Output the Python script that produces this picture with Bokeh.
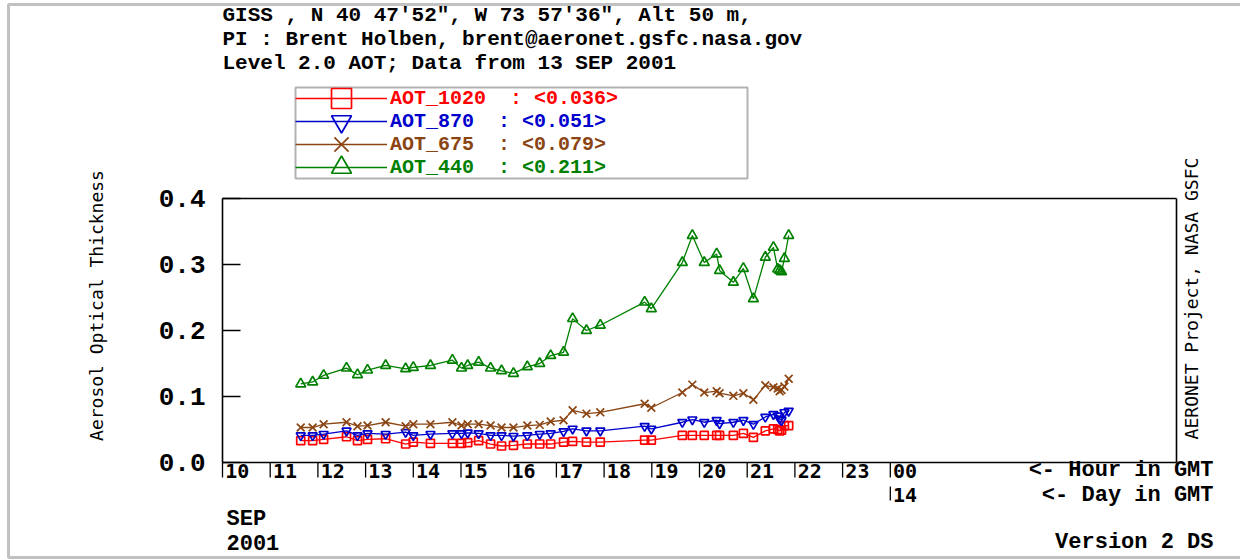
from math import pi

from bokeh.embed import file_html
from bokeh.models import (BoxAnnotation, ColumnDataSource, FixedTicker, Label,
                          Legend, LegendItem, LinearAxis, Range1d)
from bokeh.plotting import figure
from bokeh.resources import INLINE

# ---- data: GISS AERONET site, Level 2.0 AOT, 13 SEP 2001 (hours in GMT) ----
HOURS = [11.64, 11.89, 12.12, 12.60, 12.83, 13.04, 13.42, 13.84, 14.00, 14.36,
         14.82, 15.01, 15.14, 15.37, 15.62, 15.85, 16.10, 16.39, 16.65, 16.88,
         17.15, 17.34, 17.63, 17.92, 18.85, 18.99, 19.64, 19.85, 20.10, 20.36,
         20.42, 20.71, 20.92, 21.13, 21.38, 21.55, 21.64, 21.68, 21.72, 21.78,
         21.87]

AOT_1020 = [0.033, 0.033, 0.035, 0.039, 0.033, 0.035, 0.036, 0.028, 0.031, 0.029,
            0.029, 0.029, 0.030, 0.033, 0.028, 0.025, 0.026, 0.028, 0.028, 0.028,
            0.031, 0.032, 0.031, 0.031, 0.034, 0.034, 0.041, 0.041, 0.041, 0.041,
            0.041, 0.041, 0.044, 0.038, 0.048, 0.051, 0.050, 0.048, 0.049, 0.056,
            0.056]

AOT_870 = [0.041, 0.041, 0.043, 0.048, 0.041, 0.044, 0.043, 0.046, 0.041, 0.043,
           0.044, 0.044, 0.045, 0.044, 0.041, 0.041, 0.040, 0.041, 0.043, 0.044,
           0.047, 0.051, 0.048, 0.048, 0.055, 0.051, 0.061, 0.065, 0.061, 0.064,
           0.059, 0.061, 0.064, 0.058, 0.069, 0.073, 0.071, 0.066, 0.064, 0.076,
           0.078]

AOT_675 = [0.053, 0.053, 0.058, 0.061, 0.055, 0.056, 0.061, 0.055, 0.058, 0.058,
           0.061, 0.056, 0.058, 0.058, 0.056, 0.053, 0.053, 0.056, 0.057, 0.062,
           0.064, 0.079, 0.074, 0.076, 0.089, 0.083, 0.106, 0.118, 0.106, 0.108,
           0.105, 0.101, 0.105, 0.095, 0.117, 0.114, 0.112, 0.108, 0.110, 0.115,
           0.127]

AOT_440 = [0.119, 0.122, 0.132, 0.143, 0.133, 0.140, 0.147, 0.142, 0.144, 0.147,
           0.155, 0.143, 0.147, 0.152, 0.143, 0.139, 0.135, 0.145, 0.150, 0.162,
           0.167, 0.218, 0.200, 0.208, 0.243, 0.233, 0.303, 0.344, 0.303, 0.316,
           0.291, 0.273, 0.294, 0.248, 0.311, 0.326, 0.293, 0.291, 0.289, 0.309,
           0.344]

SERIES_NAMES = ["AOT_1020", "AOT_870", "AOT_675", "AOT_440"]
DAILY_MEANS = [0.036, 0.051, 0.079, 0.211]

HOUR_TICKS = [10, 11, 12, 13, 14, 15, 16, 17, 18, 19, 20, 21, 22, 23, 24]
HOUR_LABELS = ["10", "11", "12", "13", "14", "15", "16", "17", "18", "19",
               "20", "21", "22", "23", "00"]
DAY_TICKS = [24]
DAY_LABELS = ["14"]
Y_TICKS = [0.0, 0.1, 0.2, 0.3, 0.4]
Y_TICK_LABELS = ["0.0", "0.1", "0.2", "0.3", "0.4"]

TITLE_LINES = ['GISS , N 40 47\'52", W 73 57\'36", Alt 50 m,',
               "PI : Brent Holben, brent@aeronet.gsfc.nasa.gov",
               "Level 2.0 AOT; Data from 13 SEP 2001"]

# ---- page geometry (pixels) ----
W, H = 1240, 559
F_LEFT, F_RIGHT, F_TOP, F_BOTTOM = 222, 1176, 198, 462
X_MIN, X_MAX = 10, 30
Y_MIN, Y_MAX = 0.0, 0.4

WIDE = "Liberation Mono"
NARROW = "DejaVu Sans Mono"


def hx(px):
    """page x pixel -> hour on the time axis"""
    return X_MIN + (px - F_LEFT) * (X_MAX - X_MIN) / (F_RIGHT - F_LEFT)


def vy(py):
    """page y pixel -> AOT value on the vertical axis"""
    return Y_MIN + (F_BOTTOM - py) * (Y_MAX - Y_MIN) / (F_BOTTOM - F_TOP)


# the plotting frame covers the whole page; the AOT box is drawn by four axes
p = figure(width=W, height=H, output_backend="svg", toolbar_location=None,
           x_range=Range1d(hx(0), hx(W)), y_range=Range1d(vy(H), vy(0)),
           min_border=0, title=None, x_axis_type=None, y_axis_type=None)
p.outline_line_color = None
p.background_fill_color = "white"
p.border_fill_color = "white"


def bare_axis(**kw):
    opts = dict(major_tick_in=0, major_tick_out=0, minor_tick_in=0, minor_tick_out=0,
                axis_line_color="black", axis_line_width=1.6,
                major_label_text_color="black")
    opts.update(kw)
    return LinearAxis(**opts)


# vertical AOT axis
yax = bare_axis(fixed_location=X_MIN, bounds=(Y_MIN, Y_MAX),
                ticker=FixedTicker(ticks=Y_TICKS))
yax.major_label_overrides = dict(zip(Y_TICKS, Y_TICK_LABELS))
yax.major_label_standoff = 17
yax.major_label_text_font = WIDE
yax.major_label_text_font_style = "bold"
yax.major_label_text_font_size = "26px"
p.add_layout(yax, "left")

# right and top edges of the box
p.add_layout(bare_axis(fixed_location=X_MAX, bounds=(Y_MIN, Y_MAX),
                       ticker=FixedTicker(ticks=[])), "right")
p.add_layout(bare_axis(fixed_location=Y_MAX, bounds=(X_MIN, X_MAX),
                       ticker=FixedTicker(ticks=[])), "above")

# hour axis line, with each hour number just right of its mark
LABEL_SHIFT = 0.31
hour_ax = bare_axis(fixed_location=Y_MIN, bounds=(X_MIN, X_MAX),
                    ticker=FixedTicker(ticks=[h + LABEL_SHIFT for h in HOUR_TICKS]))
hour_ax.major_label_overrides = {h + LABEL_SHIFT: s for h, s in zip(HOUR_TICKS, HOUR_LABELS)}
hour_ax.major_label_standoff = 1
hour_ax.major_label_text_font = NARROW
hour_ax.major_label_text_font_style = "bold"
hour_ax.major_label_text_font_size = "20px"
p.add_layout(hour_ax, "below")

# day row under the hours
DAY_ROW = vy(486)
day_ax = bare_axis(fixed_location=DAY_ROW, axis_line_color=None,
                   ticker=FixedTicker(ticks=[d + LABEL_SHIFT for d in DAY_TICKS]))
day_ax.major_label_overrides = {d + LABEL_SHIFT: s for d, s in zip(DAY_TICKS, DAY_LABELS)}
day_ax.major_label_standoff = 1
day_ax.major_label_text_font = NARROW
day_ax.major_label_text_font_style = "bold"
day_ax.major_label_text_font_size = "20px"
p.add_layout(day_ax, "below")

# tick marks: inward on the AOT axis, downward at whole hours and at the day change
p.segment(x0=[X_MIN] * len(Y_TICKS), y0=Y_TICKS, x1=[hx(F_LEFT + 18)] * len(Y_TICKS),
          y1=Y_TICKS, line_color="black", line_width=1.3)
p.segment(x0=HOUR_TICKS, y0=[Y_MIN] * len(HOUR_TICKS), x1=HOUR_TICKS,
          y1=[vy(F_BOTTOM + 15)] * len(HOUR_TICKS), line_color="black", line_width=1.3)
p.segment(x0=DAY_TICKS, y0=[DAY_ROW] * len(DAY_TICKS), x1=DAY_TICKS,
          y1=[vy(500)] * len(DAY_TICKS), line_color="black", line_width=1.3)

# ---- series ----
src = ColumnDataSource(dict(hour=HOURS, aot_1020=AOT_1020, aot_870=AOT_870,
                            aot_675=AOT_675, aot_440=AOT_440))

STYLES = [  # column, colour, marker, marker size
    ("aot_1020", "#ff0000", "square", 8),
    ("aot_870", "#0000cc", "inverted_triangle", 9),
    ("aot_675", "#8b4513", "x", 11),
    ("aot_440", "#008000", "triangle", 10),
]

renderers = []
for col, color, marker, size in STYLES:
    lr = p.line("hour", col, source=src, line_color=color, line_width=1.3)
    mr = p.scatter("hour", col, source=src, marker=marker, size=size,
                   line_color=color, fill_color=None, line_width=1.7)
    renderers.append((lr, mr))

# ---- legend: one entry per wavelength, each with its own text colour ----
ROW_CENTERS = [98, 121, 144, 167]
GLYPH_H = 50
for (col, color, marker, size), (lr, mr), name, mean, yc in zip(
        STYLES, renderers, SERIES_NAMES, DAILY_MEANS, ROW_CENTERS):
    text = f"{name}\u00a0\u00a0: <{mean:.3f}>"
    leg = Legend(items=[LegendItem(label=text, renderers=[lr, mr])],
                 location=(295, H - (yc + GLYPH_H // 2)),
                 glyph_width=92, glyph_height=GLYPH_H, label_standoff=3,
                 padding=0, margin=0, spacing=0,
                 border_line_color=None, background_fill_alpha=0,
                 label_text_font=WIDE, label_text_font_style="bold",
                 label_text_font_size="20px", label_text_color=color,
                 label_height=GLYPH_H)
    p.add_layout(leg)

p.add_layout(BoxAnnotation(left=hx(295), right=hx(747), top=vy(87), bottom=vy(178),
                           fill_color=None, line_color="black", line_width=2))

# page border
p.add_layout(BoxAnnotation(left=hx(8), right=hx(1262), top=vy(4), bottom=vy(557),
                           fill_color=None, line_color="#333333", line_width=3))


# ---- texts ----
def add_text(x, y, text, font=WIDE, size="22px", style="bold", align="left", angle=0.0):
    p.add_layout(Label(x=x, y=y, text=text, text_font=font, text_font_size=size,
                       text_font_style=style, text_align=align, text_baseline="middle",
                       text_color="black", angle=angle))


for i, line in enumerate(TITLE_LINES):
    add_text(hx(222), vy(15 + 24 * i), line, size="21px")

add_text(hx(96), vy(305), "Aerosol Optical Thickness", font=NARROW, size="18px",
         style="normal", align="center", angle=pi / 2)
add_text(hx(1191), vy(298), "AERONET Project, NASA GSFC", font=NARROW, size="18px",
         style="normal", align="center", angle=pi / 2)

add_text(hx(1213), vy(470), "<- Hour in GMT", align="right")
add_text(hx(1213), vy(495), "<- Day in GMT", align="right")
add_text(hx(226), vy(519), "SEP")
add_text(hx(226), vy(542), "2001")
add_text(hx(1213), vy(542), "Version 2 DS", align="right")

open("out.html", "w").write(file_html(p, INLINE))
